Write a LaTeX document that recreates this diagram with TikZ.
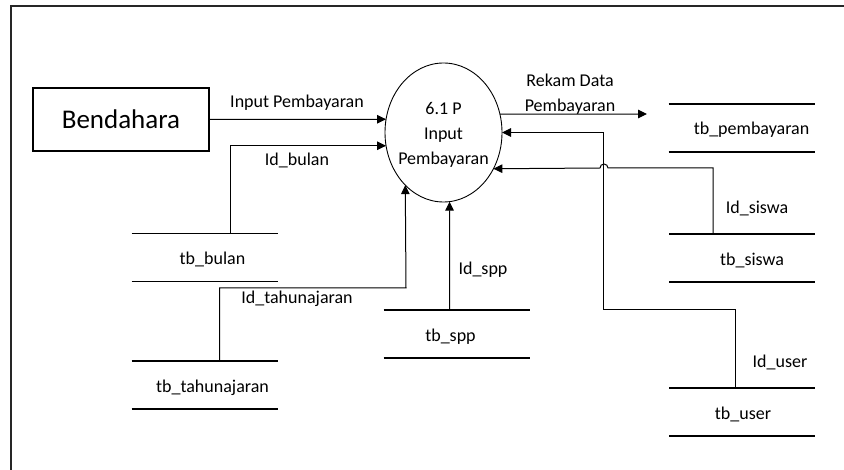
\documentclass[tikz,border=0pt]{standalone}
\usepackage{fontspec}
\setmainfont{Carlito}
\usetikzlibrary{arrows.meta,calc,shapes.geometric}
\begin{document}
\begin{tikzpicture}[x=1pt,y=-1pt,
  font=\fontsize{18}{25}\selectfont,
  flow/.style={draw, line width=1pt, -{Triangle[length=9pt,width=8.5pt]}},
  entity/.style={draw, line width=1.2pt, minimum width=176pt, minimum height=63pt, inner sep=0pt, outer sep=0pt, font=\fontsize{27}{30}\selectfont},
  proc/.style={draw, ellipse, line width=0.9pt, minimum width=117pt, minimum height=139pt, inner sep=0pt, outer sep=0pt},
  store/.style={minimum width=146pt, minimum height=48pt, inner sep=0pt, outer sep=0pt,
    append after command={(\tikzlastnode.north west) edge[line width=1.2pt] (\tikzlastnode.north east)
                          (\tikzlastnode.south west) edge[line width=1.2pt] (\tikzlastnode.south east)}},
  flowlabel/.style={inner sep=0pt}
]
\useasboundingbox (0,0) rectangle (844,470);
% frame
\draw[line width=2pt, black!85] (11,470) -- (11,6) -- (844,6);

% nodes
\node[entity] (ben) at (121,119.5) {Bendahara};
\node[proc, label={[align=center, yshift=-2pt]center:6.1 P\\Input\\Pembayaran}] (p) at (443.5,132.5) {};

\node[store, label={[xshift=10pt, yshift=-2pt]center:tb\_pembayaran}] (pem) at (741.5,128) {};
\node[store, label={[xshift=10pt, yshift=-2pt]center:tb\_siswa}] (sis) at (742,258) {};
\node[store, label={[xshift=1pt, yshift=-2pt]center:tb\_user}] (usr) at (742,412) {};
\node[store, label={[xshift=8pt, yshift=-2pt]center:tb\_bulan}] (bul) at (204.5,257.5) {};
\node[store, label={[xshift=8pt, yshift=-3pt]center:tb\_tahunajaran}] (tah) at (204.5,385) {};
\node[store, label={[xshift=-6pt, yshift=-3pt]center:tb\_spp}] (spp) at (456.5,334) {};

\coordinate (rekend) at (647,114);

% flows
\draw[flow] (ben.east) -- (p.167.7);
\draw[flow] ($(bul.north west)+(99,0)$) |- (p.193.2);
\draw[flow] ($(tah.north west)+(88,0)$) |- (406,288) -- (p.234.9);
\draw[flow] ($(spp.north west)+(66,0)$) -- (p.275.4);
\draw[flow] (p.18.2) -- (rekend);
\draw[flow] ($(usr.north west)+(66,0)$) |- (603,310) |- (p.east);
\draw[flow] ($(sis.north west)+(44,0)$) |- (608,168) arc[start angle=0, end angle=-180, radius=4] -- (p.324.8);

% labels
\node[flowlabel] (lip) at (297,103) {Input Pembayaran};
\node[flowlabel] (lbu) at (297,160) {Id\_bulan};
\node[flowlabel] (lta) at (297,299) {Id\_tahunajaran};
\node[flowlabel] (lsp) at (483,270) {Id\_spp};
\node[flowlabel, align=center] (lrk) at (570,94) {Rekam Data\\Pembayaran};
\node[flowlabel] (lsi) at (757,208) {Id\_siswa};
\node[flowlabel] (lus) at (780,362) {Id\_user};
\end{tikzpicture}
\end{document}
